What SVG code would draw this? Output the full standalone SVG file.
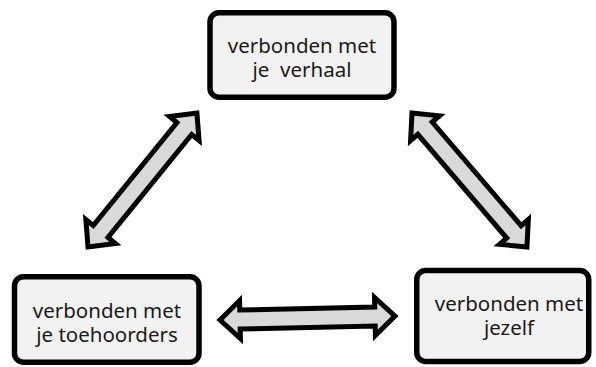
<svg xmlns="http://www.w3.org/2000/svg" width="596" height="367" viewBox="0 0 596 367">
<style>
.box{fill:#f2f2f2;stroke:#000;stroke-width:5.5}
.lbl{font-family:"Noto Sans","Open Sans",sans-serif;font-size:20.5px;fill:#1a1a1a;text-anchor:middle;white-space:pre}
.arr{fill:#d9d9d9;stroke:#000;stroke-width:5;stroke-linejoin:miter;stroke-miterlimit:10}
</style>
<rect width="596" height="367" fill="#fff"/>
<g id="connectors">
<polygon class="arr" transform="translate(220,320) rotate(-1.3)" points="0,0 20,-19 20,-9.5 155,-9.5 155,-19 175,0 155,19 155,9.5 20,9.5 20,19"/>
<polygon class="arr" transform="translate(88,247) rotate(-50.9)" points="0,0 20,-19 20,-9.5 152.7,-9.5 152.7,-19 172.7,0 152.7,19 152.7,9.5 20,9.5 20,19"/>
<polygon class="arr" transform="translate(412,113) rotate(49.4)" points="0,0 20,-19 20,-9.5 156.6,-9.5 156.6,-19 176.6,0 156.6,19 156.6,9.5 20,9.5 20,19"/>
</g>
<g id="node-verhaal">
<rect class="box" x="210" y="12.75" width="184" height="84.5" rx="9"/>
<text class="lbl" x="302" y="53">verbonden met</text>
<text class="lbl" x="302" y="77" xml:space="preserve">je  verhaal</text>
</g>
<g id="node-toehoorders">
<rect class="box" x="14.5" y="276.75" width="184.5" height="85.5" rx="9"/>
<text class="lbl" x="107" y="318">verbonden met</text>
<text class="lbl" x="107" y="342">je toehoorders</text>
</g>
<g id="node-jezelf">
<rect class="box" x="416.75" y="270.5" width="172" height="91" rx="9"/>
<text class="lbl" x="509" y="311">verbonden met</text>
<text class="lbl" x="509" y="335">jezelf</text>
</g>
</svg>
